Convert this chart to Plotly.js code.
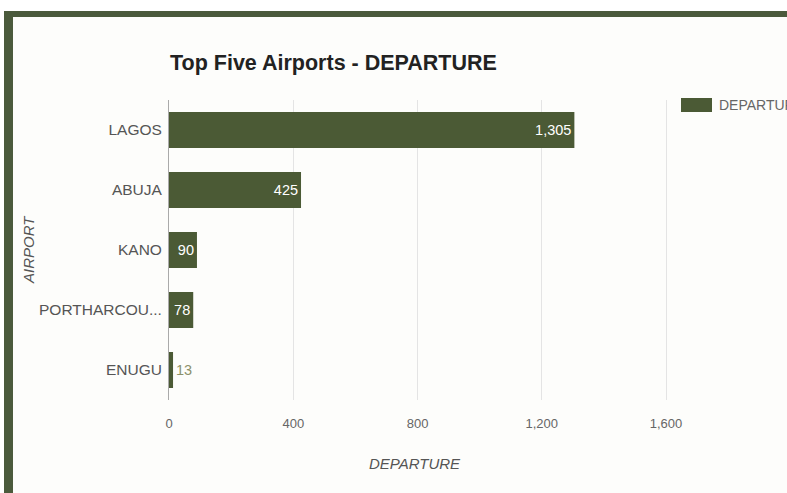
<!DOCTYPE html>
<html>
<head>
<meta charset="utf-8">
<script src="https://cdn.plot.ly/plotly-3.0.1.min.js"></script>
<style>
html,body{margin:0;padding:0;background:#ffffff;}
#frame{position:absolute;left:4px;top:11px;width:800px;height:500px;border-left:9px solid #4b5a3c;border-top:6px solid #4b5a3c;background:#fdfdfb;}
#chart{position:absolute;left:0;top:0;width:787px;height:493px;}
</style>
</head>
<body>
<div id="frame"></div>
<div id="chart"></div>
<script>
const airports = ["LAGOS", "ABUJA", "KANO", "PORTHARCOU...", "ENUGU"];
const departures = [1305, 425, 90, 78, 13];
const labels = ["1,305", "425", "90", "78", "13"];
const xTicks = [0, 400, 800, 1200, 1600];
const xTickText = ["0", "400", "800", "1,200", "1,600"];

const W = 787, H = 493;
const L = 169, R = 680, T = 100, B = 400;
const px = x => (x - L) / (R - L);
const py = y => (B - y) / (B - T);
const barColor = "#4b5a35";
const FONT = "Liberation Sans, Arial, sans-serif";

const trace = {
  type: "bar",
  orientation: "h",
  y: airports,
  x: departures,
  text: labels,
  textposition: ["inside", "inside", "inside", "inside", "outside"],
  insidetextanchor: "end",
  constraintext: "none",
  textfont: {family: FONT, size: 14.5, color: ["#ffffff","#ffffff","#ffffff","#ffffff","#8c916a"]},
  marker: {color: barColor},
  cliponaxis: false,
  hoverinfo: "none",
  showlegend: false
};

const layout = {
  width: W, height: H,
  margin: {l: L, r: W - R, t: T, b: H - B, pad: 0},
  paper_bgcolor: "rgba(0,0,0,0)",
  plot_bgcolor: "rgba(0,0,0,0)",
  bargap: 0.4,
  font: {family: FONT, color: "#555555"},
  title: {
    text: "<b>Top Five Airports - DEPARTURE</b>",
    x: px(170), xref: "paper", xanchor: "left",
    y: 1 - 62 / H, yref: "container", yanchor: "middle",
    font: {size: 21.5, color: "#222222", family: FONT}
  },
  xaxis: {
    range: [0, 1645],
    tickvals: xTicks, ticktext: xTickText,
    showgrid: true, gridcolor: "#e4e4e4", gridwidth: 1,
    zeroline: false,
    showline: false,
    ticks: "", ticklen: 0,
    ticklabelstandoff: 14,
    tickfont: {size: 13, color: "#666666"},
    fixedrange: true
  },
  yaxis: {
    autorange: "reversed",
    showline: true, linecolor: "#aaaaaa", linewidth: 1,
    showgrid: false,
    ticks: "",
    ticklabelstandoff: 3,
    tickfont: {size: 15.5, color: "#555555"},
    fixedrange: true
  },
  shapes: [
    {type: "rect", xref: "paper", yref: "paper", x0: px(681), x1: px(712), y0: py(98), y1: py(112), fillcolor: barColor, line: {width: 0}}
  ],
  annotations: [
    {text: "DEPARTURE", xref: "paper", yref: "paper", x: px(717), y: py(105), xanchor: "left", yanchor: "middle", showarrow: false, font: {size: 14, color: "#666666"}},
    {text: "<i>DEPARTURE</i>", xref: "paper", yref: "paper", x: px(415), y: py(463), xanchor: "center", yanchor: "middle", showarrow: false, font: {size: 15, color: "#555555"}},
    {text: "<i>AIRPORT</i>", xref: "paper", yref: "paper", x: px(28), y: py(250), xanchor: "center", yanchor: "middle", textangle: -90, showarrow: false, font: {size: 15, color: "#555555"}}
  ]
};

Plotly.newPlot("chart", [trace], layout, {displayModeBar: false, staticPlot: true});
</script>
</body>
</html>
